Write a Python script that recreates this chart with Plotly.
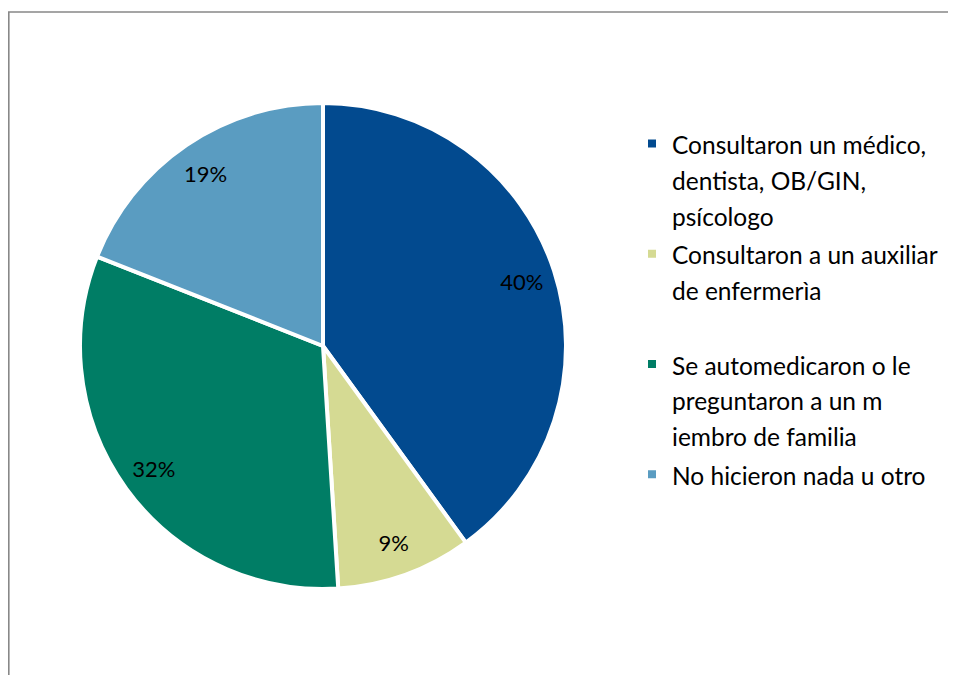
import plotly.graph_objects as go

labels = [
    "Consultaron un médico,<br>dentista, OB/GIN,<br>psícologo",
    "Consultaron a un auxiliar<br>de enfermerìa<br> ",
    "Se automedicaron o le<br>preguntaron a un m<br>iembro de familia",
    "No hicieron nada u otro",
]
values = [40, 9, 32, 19]
colors = ["#024A8F", "#D5DA93", "#007D65", "#5A9CC1"]

W, H = 956, 675
OFF = 8  # page offset of the figure inside the window
cx, cy, r = 323 - OFF, 346 - OFF, 243
dom_x = [(cx - r) / W, (cx + r) / W]
dom_y = [(H - cy - r) / H, (H - cy + r) / H]


def legend_text(s):
    return "<br>".join(
        '<span style="font-size:24.5px">' + ln + "</span>" for ln in s.split("<br>")
    )


legend_labels = [legend_text(s) for s in labels]

fig = go.Figure()
fig.add_trace(go.Pie(
    labels=legend_labels, values=values, sort=False, direction="clockwise", rotation=0,
    marker=dict(colors=colors, line=dict(color="white", width=4)),
    textinfo="none", hoverinfo="percent",
    domain=dict(x=dom_x, y=dom_y),
))
# transparent ring carrying the percentage labels near the rim
fig.add_trace(go.Pie(
    labels=legend_labels, values=values, sort=False, direction="clockwise", rotation=0,
    hole=0.72, showlegend=False,
    marker=dict(colors=["rgba(0,0,0,0)"] * 4, line=dict(width=0)),
    textinfo="percent", textposition="inside", insidetextorientation="horizontal",
    textfont=dict(family="Lato, Open Sans, sans-serif", size=22, color="black"),
    texttemplate="%{percent:.0%}", hoverinfo="skip",
    domain=dict(x=dom_x, y=dom_y),
))

fig.update_layout(
    width=W, height=H,
    margin=dict(l=0, r=0, t=0, b=0),
    paper_bgcolor="white", plot_bgcolor="white",
    font=dict(family="Lato, Open Sans, sans-serif", size=21, color="black"),
    legend=dict(
        x=(632 - OFF) / W, y=(H - (119 - OFF)) / H, xanchor="left", yanchor="top",
        valign="top", itemwidth=30, tracegroupgap=0,
        font=dict(size=27.5, color="black"),
        bgcolor="rgba(0,0,0,0)",
    ),
    shapes=[dict(
        type="rect", xref="paper", yref="paper",
        x0=0.8 / W, x1=1.02, y0=-0.02, y1=(H - 4) / H,
        line=dict(color="#888888", width=1.6), fillcolor="rgba(0,0,0,0)",
        layer="below",
    )],
)

fig.write_html("out.html")
